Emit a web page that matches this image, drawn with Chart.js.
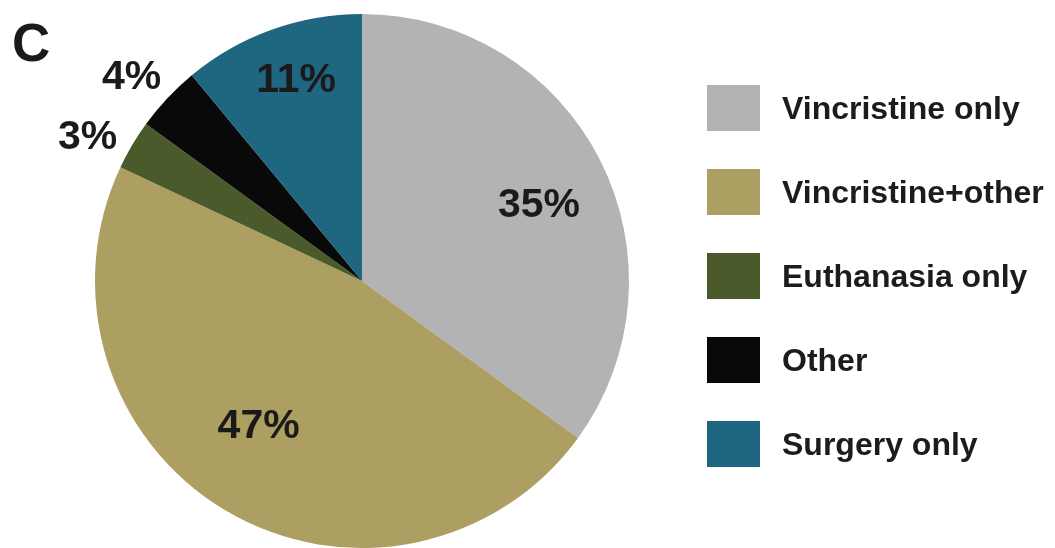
<!DOCTYPE html>
<html>
<head>
<meta charset="utf-8">
<script src="https://cdn.jsdelivr.net/npm/chart.js@4.4.0/dist/chart.umd.min.js"></script>
<style>
  html, body { margin: 0; padding: 0; background: #fff; }
  #wrap { position: relative; width: 1055px; height: 548px; overflow: hidden; }
  #pie { position: absolute; left: 0; top: 0; }
  #panel {
    position: absolute; left: 12px; top: 12px;
    font: bold 53px "Liberation Sans", Arial, sans-serif; color: #1a1a1a;
  }
  .item { position: absolute; left: 707px; height: 46px; }
  .item .box { position: absolute; left: 0; top: 0; width: 53px; height: 46px; }
  .item .txt {
    position: absolute; left: 75px; top: 50%; transform: translateY(-50%);
    white-space: nowrap; font: bold 32px "Liberation Sans", Arial, sans-serif; color: #1c1c1c;
  }
</style>
</head>
<body>
<div id="wrap">
  <canvas id="pie" width="1055" height="548"></canvas>
  <div id="panel">C</div>
  <div id="legend"></div>
</div>
<script>
// ===== Data =====
const categories = ["Vincristine only", "Vincristine+other", "Euthanasia only", "Other", "Surgery only"];
const shares = [35, 47, 3, 4, 11];
const sliceColors = ["#b3b3b5", "#ad9e62", "#4b5a2a", "#090909", "#1f6681"];

// label placement (fraction of radius, angle nudge in degrees)
const labelRadius = [0.72, 0.67, 1.16, 1.15, 0.79];
const labelNudge = [4, 4.7, -3, -1.8, 1.6];

// ===== Percent labels drawn on the arcs =====
const percentLabels = {
  id: "percentLabels",
  afterDatasetsDraw(chart) {
    const ctx = chart.ctx;
    const arcs = chart.getDatasetMeta(0).data;
    ctx.save();
    ctx.font = "bold 41px 'Liberation Sans', Arial, sans-serif";
    ctx.fillStyle = "#1a1a1a";
    ctx.textAlign = "center";
    ctx.textBaseline = "middle";
    arcs.forEach((arc, i) => {
      const mid = (arc.startAngle + arc.endAngle) / 2 + labelNudge[i] * Math.PI / 180;
      const r = arc.outerRadius * labelRadius[i];
      ctx.fillText(shares[i] + "%", arc.x + Math.cos(mid) * r, arc.y + Math.sin(mid) * r);
    });
    ctx.restore();
  }
};

// ===== Pie Chart =====
new Chart(document.getElementById("pie").getContext("2d"), {
  type: "pie",
  data: {
    labels: categories,
    datasets: [{
      data: shares,
      backgroundColor: sliceColors,
      borderWidth: 0
    }]
  },
  options: {
    responsive: false,
    animation: false,
    layout: { padding: { left: 95, top: 14, right: 426, bottom: 0 } },
    plugins: {
      legend: { display: false },
      tooltip: { enabled: false }
    }
  },
  plugins: [percentLabels]
});

// ===== Legend =====
const legendEl = document.getElementById("legend");
categories.forEach((name, i) => {
  const item = document.createElement("div");
  item.className = "item";
  item.style.top = (85 + i * 84) + "px";
  item.innerHTML = '<div class="box" style="background:' + sliceColors[i] + '"></div><div class="txt">' + name + '</div>';
  legendEl.appendChild(item);
});
</script>
</body>
</html>
